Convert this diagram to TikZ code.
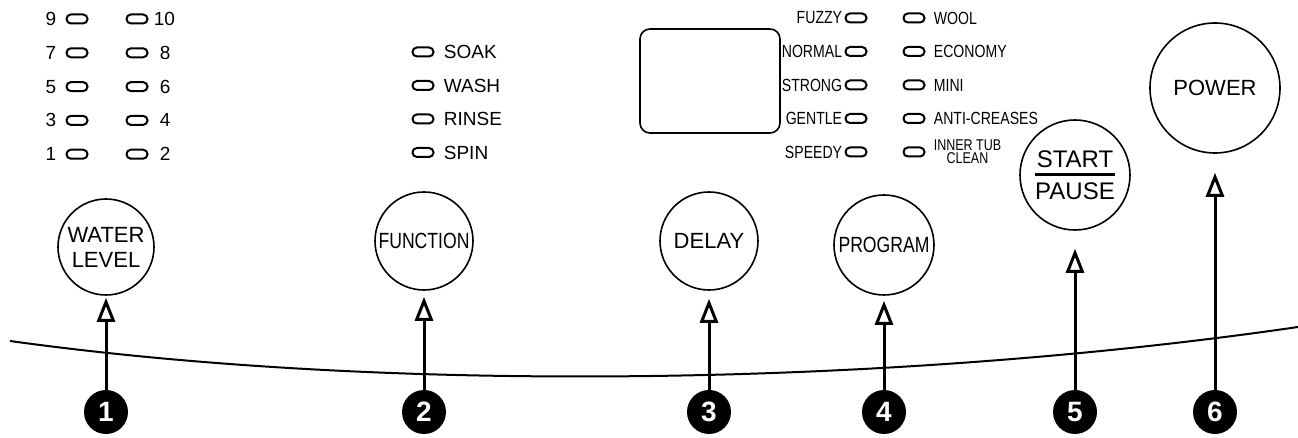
\documentclass[tikz,border=0pt]{standalone}
\usepackage{fontspec}
\setmainfont{Liberation Sans}
\newfontfamily\narrowfont[FakeStretch=0.8]{Liberation Sans}
\usetikzlibrary{arrows.meta, calc, positioning}

\tikzset{
	led/.style = {draw, line width = 1pt, rounded corners = 2.2pt, minimum width = 10.5pt, minimum height = 4.5pt, inner sep = 0pt},
	ledtext/.style = {font = \fontsize{9.5}{10}\selectfont, inner sep = 1pt},
	progtext/.style = {font = \narrowfont\fontsize{8.8}{9}\selectfont, inner sep = 1pt},
	button/.style = {draw, circle, line width = 0.8pt, minimum size = 49pt, inner sep = 0pt, align = center, font = \fontsize{11}{12.5}\selectfont},
	num/.style = {circle, fill = black, text = white, font = \bfseries\fontsize{14}{14}\selectfont, minimum size = 22pt, inner sep = 0pt},
	pointer/.style = {line width = 1.5pt, -{Triangle[open, width = 9pt, length = 12pt]}}
}

\begin{document}
\begin{tikzpicture}[x = 0.5pt, y = -0.5pt]
		\useasboundingbox (0, 0) rectangle (1298, 438);
		
		% water level
		\foreach \lo/\hi/\gap [count = \i from 0] in {9/10/1.5, 7/8/4.5, 5/6/4.5, 3/4/4.5, 1/2/4.5} {
			\node [led] (wl\lo) at (77, {19 + 33.8*\i}) {};
			\node [led] (wl\hi) at (137, {19 + 33.8*\i}) {};
			\node [ledtext, left = 3.5pt of wl\lo] (wl\lo text) {\lo};
			\node [ledtext, right = \gap pt of wl\hi] (wl\hi text) {\hi};
		}
		
		% function
		\foreach \step [count = \i from 0] in {SOAK, WASH, RINSE, SPIN} {
			\node [led] (fn\i) at (423, {52 + 33.5*\i}) {};
			\node [ledtext, right = 3.5pt of fn\i] (fn\i text) {\step};
		}
		
		% display
		\node [draw, line width = 0.8pt, rounded corners = 5pt, minimum width = 70pt, minimum height = 52pt] (display) at (710, 81) {};
		
		% program
		\foreach \left/\right [count = \i from 0] in {FUZZY/WOOL, NORMAL/ECONOMY, STRONG/MINI, GENTLE/ANTI-CREASES} {
			\node [led] (pl\i) at (856, {18 + 33.5*\i}) {};
			\node [led] (pr\i) at (914, {18 + 33.5*\i}) {};
			\node [progtext, left = 0pt of pl\i] (pl\i text) {\left};
			\node [progtext, right = 3pt of pr\i] (pr\i text) {\right};
		}
		\node [led] (pl4) at (856, 152) {};
		\node [led] (pr4) at (914, 152) {};
		\node [progtext, left = 0pt of pl4] (pl4 text) {SPEEDY};
		\node [progtext, right = 3pt of pr4, align = center, font = \narrowfont\fontsize{7.8}{6.6}\selectfont] (pr4 text) {INNER TUB\\CLEAN};
		
		% buttons
		\node [button, minimum size = 48pt] (water) at (106, 247) {WATER\\LEVEL};
		\node [button, font = \narrowfont\fontsize{11}{12}\selectfont] (function) at (424, 241) {FUNCTION};
		\node [button] (delay) at (709, 241) {DELAY};
		\node [button, minimum size = 50pt, font = \narrowfont\fontsize{11}{12}\selectfont] (program) at (884, 245) {PROGRAM};
		\node [button, minimum size = 55pt, font = \fontsize{12}{16}\selectfont] (start) at (1075, 175) {START\\PAUSE};
		\draw [line width = 1.5pt] ($(start) + (-40, 0)$) -- ($(start) + (40, 0)$);
		\node [button, minimum size = 65pt] (power) at (1215, 88) {POWER};
		
		% edge of the panel
		\draw [line width = 1pt] (10, 341) .. controls (400, 395) and (900, 385) .. (1298, 327);
		
		% numbers
		\node [num] (n1) at (106, 412) {1};
		\node [num] (n2) at (424, 412) {2};
		\node [num] (n3) at (709, 412) {3};
		\node [num] (n4) at (884, 412) {4};
		\node [num] (n5) at (1075, 412) {5};
		\node [num] (n6) at (1215, 412) {6};
		
		\draw [pointer, shorten > = 1pt] (n1) -- (water);
		\draw [pointer, shorten > = 3pt] (n2) -- (function);
		\draw [pointer, shorten > = 4pt] (n3) -- (delay);
		\draw [pointer, shorten > = 2.5pt] (n4) -- (program);
		\draw [pointer, shorten > = 9pt] (n5) -- (start);
		\draw [pointer, shorten > = 9.5pt] (n6) -- (power);
	\end{tikzpicture}
\end{document}
